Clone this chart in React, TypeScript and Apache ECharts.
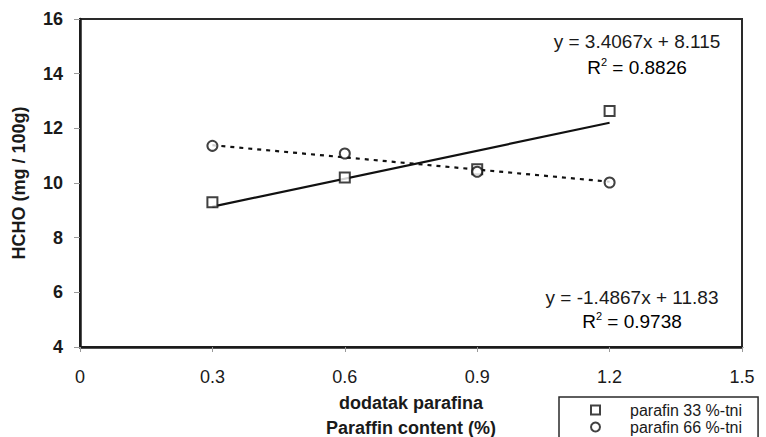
import React, { useEffect, useRef } from "react";
import * as echarts from "echarts";

const xValues = [0.3, 0.6, 0.9, 1.2];
const series33 = [9.3, 10.2, 10.5, 12.63];
const series66 = [11.36, 11.08, 10.41, 10.02];
const seriesNames = ["parafin 33 %-tni", "parafin 66 %-tni"];
const trend33 = { slope: 3.4067, intercept: 8.115, r2: "0.8826" };
const trend66 = { slope: -1.4867, intercept: 11.83, r2: "0.9738" };
const trendRange = [0.3, 1.2];
const yAxisName = "HCHO (mg / 100g)";
const xAxisName = "dodatak parafina\nParaffin content (%)";

const FONT = "'Liberation Sans', Arial, sans-serif";

function trendPoints(t: { slope: number; intercept: number }) {
  return trendRange.map((x) => [x, t.slope * x + t.intercept]);
}

function eqText(t: { slope: number; intercept: number }) {
  const sign = t.intercept >= 0 ? "+" : "-";
  return `y = ${t.slope}x ${sign} ${Math.abs(t.intercept)}`;
}

export default function App() {
  const ref = useRef<HTMLDivElement>(null);
  useEffect(() => {
    if (!ref.current) return;
    const chart = echarts.init(ref.current, undefined, { renderer: "svg" });
    const rich = {
      a: { fontSize: 19, fontFamily: FONT, color: "#1a1a1a", lineHeight: 22 },
      s: { fontSize: 11, fontFamily: FONT, color: "#1a1a1a", lineHeight: 22, verticalAlign: "top" as const, padding: [0, 0, 9, 0] },
    };
    chart.setOption({
      animation: false,
      backgroundColor: "#ffffff",
      textStyle: { fontFamily: FONT },
      grid: {
        left: 80,
        top: 19,
        right: 24,
        bottom: 90,
        containLabel: false,
        outerBoundsMode: "none",
        show: true,
        borderColor: "#2a2a2a",
        borderWidth: 2,
      },
      xAxis: {
        type: "value",
        min: 0,
        max: 1.5,
        interval: 0.3,
        name: xAxisName,
        nameLocation: "middle",
        nameGap: 43,
        nameTextStyle: { fontSize: 18, fontWeight: "bold", color: "#1a1a1a", lineHeight: 25, fontFamily: FONT },
        axisLine: { lineStyle: { color: "#1a1a1a", width: 2.5 } },
        axisTick: { show: true, length: 5, lineStyle: { color: "#999", width: 1 } },
        splitLine: { show: false },
        axisLabel: {
          fontSize: 18,
          color: "#1a1a1a",
          margin: 21,
          fontFamily: FONT,
          formatter: (v: number) => (v === 0 ? "0" : v.toFixed(1)),
        },
      },
      yAxis: {
        type: "value",
        min: 4,
        max: 16,
        interval: 2,
        name: yAxisName,
        nameLocation: "middle",
        nameGap: 52,
        nameTextStyle: { fontSize: 18, fontWeight: "bold", color: "#1a1a1a", fontFamily: FONT },
        axisLine: { lineStyle: { color: "#1a1a1a", width: 2.5 } },
        axisTick: { show: true, length: 6, lineStyle: { color: "#999", width: 1 } },
        splitLine: { show: false },
        axisLabel: { fontSize: 18, fontWeight: "bold", color: "#1a1a1a", margin: 17, fontFamily: FONT },
      },
      legend: {
        orient: "vertical",
        left: 559,
        top: 397,
        height: 60,
        data: [
          { name: seriesNames[0], icon: "rect" },
          { name: seriesNames[1], icon: "circle" },
        ],
        itemWidth: 9,
        itemHeight: 9,
        itemGap: 1,
        padding: [5, 16, 12, 31],
        borderColor: "#2a2a2a",
        borderWidth: 1.5,
        backgroundColor: "#fff",
        textStyle: { fontSize: 16, color: "#1a1a1a", lineHeight: 16, padding: [0, 0, 0, 25], fontFamily: FONT },
      },
      series: [
        {
          type: "line",
          data: trendPoints(trend33),
          symbol: "none",
          lineStyle: { color: "#111", width: 2.2, type: "solid" },
          silent: true,
          z: 1,
        },
        {
          type: "line",
          data: trendPoints(trend66),
          symbol: "none",
          lineStyle: { color: "#111", width: 2.2, type: [4, 5] },
          silent: true,
          z: 1,
        },
        {
          name: seriesNames[0],
          type: "scatter",
          data: xValues.map((x, i) => [x, series33[i]]),
          symbol: "rect",
          symbolSize: 10,
          itemStyle: { color: "#fff", borderColor: "#111", borderWidth: 2 },
          z: 3,
        },
        {
          name: seriesNames[1],
          type: "scatter",
          data: xValues.map((x, i) => [x, series66[i]]),
          symbol: "circle",
          symbolSize: 10,
          itemStyle: { color: "#fff", borderColor: "#111", borderWidth: 2 },
          z: 3,
        },
      ],
      graphic: [
        {
          type: "text",
          x: 637,
          y: 41,
          style: { text: eqText(trend33), font: `19px ${FONT}`, fill: "#1a1a1a", align: "center", verticalAlign: "middle" },
        },
        {
          type: "text",
          x: 637,
          y: 67,
          style: { text: `{a|R}{s|2}{a| = ${trend33.r2}}`, rich, align: "center", verticalAlign: "middle" },
        },
        {
          type: "text",
          x: 632,
          y: 297,
          style: { text: eqText(trend66), font: `19px ${FONT}`, fill: "#1a1a1a", align: "center", verticalAlign: "middle" },
        },
        {
          type: "text",
          x: 632,
          y: 321,
          style: { text: `{a|R}{s|2}{a| = ${trend66.r2}}`, rich, align: "center", verticalAlign: "middle" },
        },
      ],
    });
    return () => chart.dispose();
  }, []);
  return <div ref={ref} style={{ position: "absolute", left: 0, top: 0, width: 766, height: 437 }} />;
}
